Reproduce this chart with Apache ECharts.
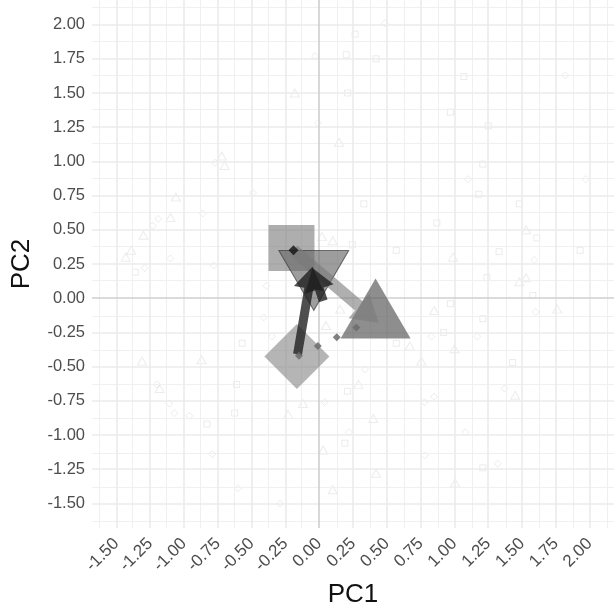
<!DOCTYPE html>
<html>
<head>
<meta charset="utf-8">
<script src="https://cdn.jsdelivr.net/npm/echarts@6/dist/echarts.min.js"></script>
<style>html,body{margin:0;padding:0;background:#fff;}#c{width:614px;height:605px;}</style>
</head>
<body>
<div id="c"></div>
<script>
// ---- tick labels ----
const xTicks = [-1.5,-1.25,-1.0,-0.75,-0.5,-0.25,0,0.25,0.5,0.75,1.0,1.25,1.5,1.75,2.0];
const yTicks = [-1.5,-1.25,-1.0,-0.75,-0.5,-0.25,0,0.25,0.5,0.75,1.0,1.25,1.5,1.75,2.0];
const xMinor = [-1.625,-1.375,-1.125,-0.875,-0.625,-0.375,-0.125,0.125,0.375,0.625,0.875,1.125,1.375,1.625,1.875,2.125];
const yMinor = [-1.625,-1.375,-1.125,-0.875,-0.625,-0.375,-0.125,0.125,0.375,0.625,0.875,1.125,1.375,1.625,1.875,2.125];

// ---- faint background observations ----
const bgTriangles = [[-0.18,1.50],[-0.72,1.04],[-0.70,0.97],[-1.06,0.74],[-1.10,0.59],[-1.30,0.46],[-1.39,0.35],[-1.43,0.30],
  [0.147,1.14],[1.53,0.50],[0.02,0.45],[0.10,0.42],[0.99,0.30],[1.48,0.12],[1.53,0.15],[-1.31,-0.46],[-0.87,-0.45],
  [-1.18,-0.66],[-0.23,-0.85],[-0.12,-0.77],[0.155,-0.08],[0.85,-0.09],[1.76,-0.08],[0.05,-0.20],[0.67,-0.35],[1.00,-0.37],
  [0.755,-0.46],[0.29,-0.63],[1.45,-0.71],[0.40,-0.88],[0.03,-1.11],[0.42,-1.28],[1.005,-1.35],[0.10,-1.40]];
const bgSquares = [[0.265,1.93],[0.20,1.78],[0.42,1.75],[1.07,1.62],[0.21,1.50],[0.97,1.36],[1.25,1.26],[1.21,0.98],[1.18,0.76],
  [0.33,0.69],[1.48,0.69],[0.87,0.55],[1.61,0.44],[0.57,0.35],[1.33,0.34],[1.93,0.35],[1.24,0.15],[1.58,0.02],[-1.36,0.19],
  [-0.57,-0.33],[-0.61,-0.63],[-0.83,-0.92],[-0.625,-0.84],[0.97,-0.04],[1.21,-0.15],[0.92,-0.25],[0.57,-0.33],[1.43,-0.47],
  [0.21,-0.68],[0.19,-1.06],[1.21,-1.24],[0.245,0.39]];
const bgDiamonds = [[-0.77,0.99],[-0.49,0.77],[-1.19,0.58],[-1.23,0.53],[-1.29,0.22],[-1.10,0.29],[-0.86,0.62],[-0.78,0.24],
  [-0.39,0.09],[0.485,2.01],[-0.03,1.77],[1.82,1.63],[-0.01,1.28],[1.10,0.87],[1.97,0.87],[1.59,0.28],[-0.41,-0.14],[-0.35,-0.28],
  [-1.20,-0.63],[-1.11,-0.77],[-1.07,-0.84],[-0.96,-0.86],[-0.79,-1.14],[-0.60,-1.39],[-0.29,-1.50],[1.60,-0.10],[0.83,-0.28],
  [1.17,-0.28],[0.34,-0.52],[1.37,-0.66],[0.85,-0.72],[0.78,-0.76],[0.04,-0.76],[0.22,-0.98],[1.08,-0.98],[0.78,-1.15],[1.32,-1.21]];

// ---- group centroids ----
const centSquare = [[-0.205,0.367]];
const centTriDown = [[-0.04,0.13]];
const centTriUp = [[0.417,-0.076]];
const centDiamond = [[-0.165,-0.426]];

// ---- small path points ----
const pathPoints = [[0.275,-0.215],[0.13,-0.285],[-0.01,-0.35],[-0.15,-0.42]];
const startPoint = [[-0.19,0.35]];

// ---- arrows [x1,y1,x2,y2] ----
const lightArrows = [[-0.19,0.35,0.44,-0.18]];
const darkArrows = [[-0.16,-0.41,-0.05,0.23],[0.03,-0.02,-0.05,0.22]];

function arrowSeries(data, color, opacity, shaftW, headL, headW, z) {
  return {
    type: 'custom', coordinateSystem: 'cartesian2d', z: z,
    encode: {x: [0,2], y: [1,3]},
    data: data,
    renderItem: function (params, api) {
      const p1 = api.coord([api.value(0), api.value(1)]);
      const p2 = api.coord([api.value(2), api.value(3)]);
      const dx = p2[0]-p1[0], dy = p2[1]-p1[1];
      const len = Math.sqrt(dx*dx+dy*dy);
      const ux = dx/len, uy = dy/len, nx = -uy, ny = ux;
      const b = [p2[0]-ux*headL, p2[1]-uy*headL];
      const pts = [
        [p1[0]+nx*shaftW/2, p1[1]+ny*shaftW/2],
        [b[0]+nx*shaftW/2, b[1]+ny*shaftW/2],
        [b[0]+nx*headW/2, b[1]+ny*headW/2],
        p2,
        [b[0]-nx*headW/2, b[1]-ny*headW/2],
        [b[0]-nx*shaftW/2, b[1]-ny*shaftW/2],
        [p1[0]-nx*shaftW/2, p1[1]-ny*shaftW/2]
      ];
      return {type: 'polygon', shape: {points: pts}, style: {fill: color, opacity: opacity}};
    }
  };
}

function bg(data, symbol, size) {
  return {type: 'scatter', data: data, symbol: symbol, symbolSize: size, z: 2, silent: true,
    itemStyle: {color: 'rgba(0,0,0,0)', borderColor: '#8a8a8a', borderWidth: 1, opacity: 0.16}};
}

const gridLineSeries = {
  type: 'scatter', data: [], z: 0, silent: true,
  markLine: {
    silent: true, symbol: 'none', animation: false, label: {show: false},
    data: [].concat(
      xMinor.map(v => ({xAxis: v, lineStyle: {color: '#f0f0f0', width: 1, type: 'solid'}})),
      yMinor.map(v => ({yAxis: v, lineStyle: {color: '#f0f0f0', width: 1, type: 'solid'}})),
      xTicks.filter(v => v !== 0).map(v => ({xAxis: v, lineStyle: {color: '#ebebeb', width: 1.6, type: 'solid'}})),
      yTicks.filter(v => v !== 0).map(v => ({yAxis: v, lineStyle: {color: '#ebebeb', width: 1.6, type: 'solid'}})),
      [{xAxis: 0, lineStyle: {color: '#cfcfcf', width: 1.6, type: 'solid'}},
       {yAxis: 0, lineStyle: {color: '#cfcfcf', width: 1.6, type: 'solid'}}]
    )
  }
};

const chart = echarts.init(document.getElementById('c'), null, {renderer: 'canvas'});
chart.setOption({
  animation: false,
  backgroundColor: '#fff',
  grid: {left: 92, top: 0, width: 522, height: 528, containLabel: false, outerBoundsMode: 'none'},
  xAxis: {
    type: 'value', min: -1.68, max: 2.18,
    name: 'PC1', nameLocation: 'middle', nameGap: 54,
    nameTextStyle: {fontSize: 26, color: '#111', fontFamily: 'Liberation Sans, Arial, sans-serif'},
    axisLine: {show: false}, axisTick: {show: false}, splitLine: {show: false},
    axisLabel: {customValues: xTicks, rotate: 45, margin: 13, fontSize: 17, color: '#4d4d4d',
      fontFamily: 'Liberation Sans, Arial, sans-serif', formatter: v => v.toFixed(2)}
  },
  yAxis: {
    type: 'value', min: -1.68, max: 2.18,
    name: 'PC2', nameLocation: 'middle', nameGap: 57,
    nameTextStyle: {fontSize: 26, color: '#111', fontFamily: 'Liberation Sans, Arial, sans-serif'},
    axisLine: {show: false}, axisTick: {show: false}, splitLine: {show: false},
    axisLabel: {customValues: yTicks, margin: 7, fontSize: 16.5, color: '#4d4d4d',
      fontFamily: 'Liberation Sans, Arial, sans-serif', formatter: v => v.toFixed(2)}
  },
  series: [
    gridLineSeries,
    bg(bgTriangles, 'triangle', [9,8]),
    bg(bgSquares, 'rect', 6),
    bg(bgDiamonds, 'diamond', 7),
    {type: 'scatter', data: centSquare, symbol: 'rect', symbolSize: 46, z: 5,
      itemStyle: {color: '#7c7c7c', opacity: 0.62}},
    {type: 'scatter', data: centDiamond, symbol: 'diamond', symbolSize: [65,65], z: 5,
      itemStyle: {color: '#888888', opacity: 0.62}},
    {type: 'scatter', data: centTriUp, symbol: 'triangle', symbolSize: [70,60], z: 5,
      itemStyle: {color: '#5e5e5e', opacity: 0.7}},
    {type: 'scatter', data: centTriDown, symbol: 'triangle', symbolRotate: 180, symbolSize: [70,60], z: 6,
      itemStyle: {color: '#6a6a6a', opacity: 0.66, borderColor: '#333', borderWidth: 1}},
    arrowSeries(lightArrows, '#7a7a7a', 0.6, 12, 26, 32, 7),
    arrowSeries(darkArrows, '#1e1e1e', 0.78, 9, 22, 30, 8),
    {type: 'scatter', data: pathPoints, symbol: 'diamond', symbolSize: 8, z: 9,
      itemStyle: {color: '#6b6b6b', opacity: 0.85}},
    {type: 'scatter', data: startPoint, symbol: 'diamond', symbolSize: 10, z: 9,
      itemStyle: {color: '#111'}}
  ]
});
</script>
</body>
</html>
